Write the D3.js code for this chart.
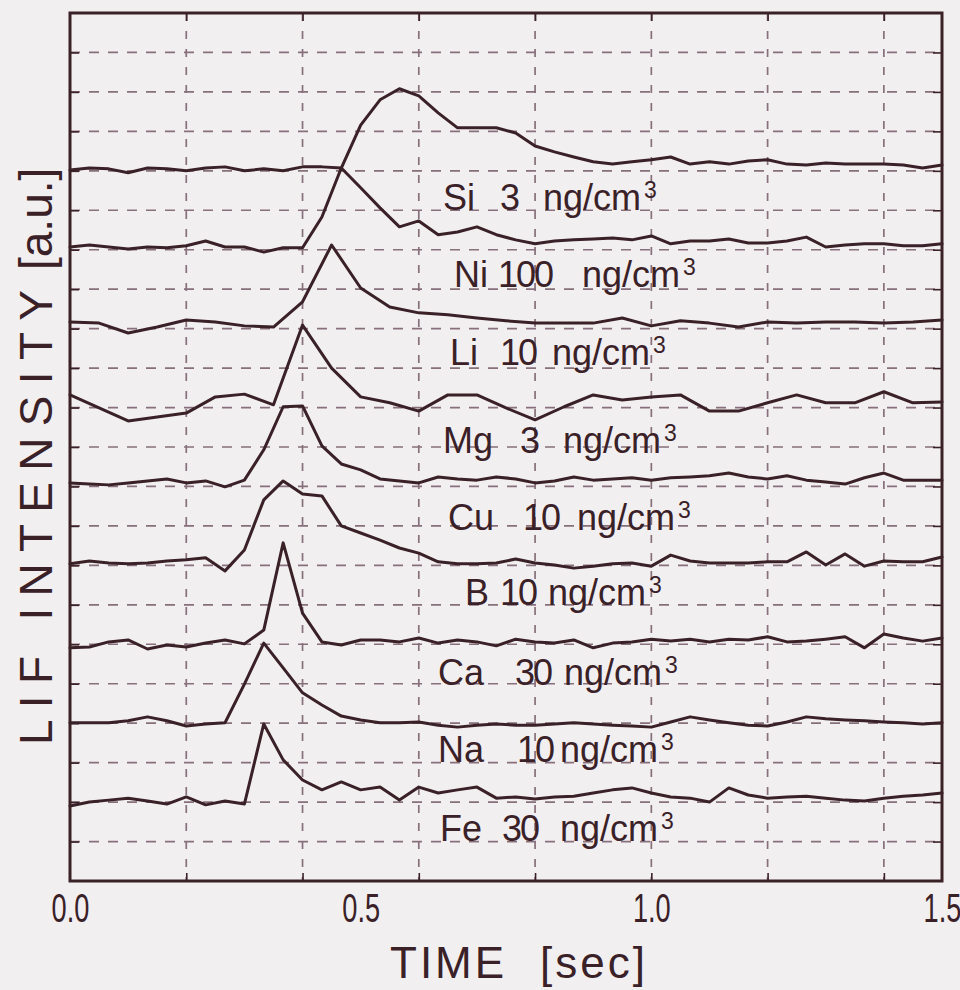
<!DOCTYPE html>
<html>
<head>
<meta charset="utf-8">
<script src="https://cdn.jsdelivr.net/npm/d3@7"></script>
<style>
  html, body { margin: 0; padding: 0; background: #f2eff1; }
  svg { display: block; }
</style>
</head>
<body>
<div id="chart"></div>
<script>
// Element traces, stacked from top to bottom
const elements = ["Si", "Ni", "Li", "Mg", "Cu", "B", "Ca", "Na", "Fe"];
const amounts  = ["3", "100", "10", "3", "10", "10", "30", "10", "30"];
const unitText = "ng/cm";
const unitPower = "3";

// Baseline of each trace in intensity units (a.u.)
const offsets = [18, 16, 14, 12, 10, 8, 6, 4, 2];
// Sampling interval of each trace [sec]
const intervals = [1/30, 1/30, 1/20, 1/20, 1/30, 1/30, 1/30, 1/30, 1/30];

// LIF signal above baseline [a.u.]
const si = [0.02,0.07,0.05,-0.05,0.07,0.05,0.00,0.07,0.10,0.00,0.05,0.00,0.10,0.10,0.07,1.16,1.80,2.08,1.90,1.47,1.09,1.09,1.09,0.96,0.63,0.48,0.35,0.23,0.17,0.23,0.28,0.35,0.17,0.23,0.17,0.25,0.28,0.17,0.15,0.20,0.17,0.17,0.17,0.15,0.07,0.15];
const ni = [0.07,0.12,0.07,0.02,0.07,0.05,0.10,0.22,0.07,0.07,-0.06,0.05,0.05,0.83,2.07,1.57,1.06,0.58,0.73,0.38,0.45,0.58,0.38,0.25,0.15,0.22,0.25,0.27,0.30,0.25,0.35,0.15,0.22,0.22,0.27,0.17,0.17,0.22,0.32,0.07,0.12,0.15,0.15,0.10,0.10,0.15];
const li = [0.17,0.14,-0.11,0.04,0.22,0.17,0.07,0.04,0.68,2.12,1.03,0.55,0.40,0.35,0.27,0.20,0.14,0.14,0.14,0.27,0.07,0.20,0.14,0.04,0.17,0.14,0.17,0.17,0.14,0.17,0.22];
const mg = [0.32,-0.01,-0.34,-0.24,-0.14,0.27,0.34,0.07,2.09,1.00,0.27,0.12,-0.09,0.32,0.32,-0.01,-0.31,0.02,0.32,0.19,0.27,0.32,-0.09,-0.09,0.12,0.32,0.12,0.12,0.40,0.12,0.14];
const cu = [0.09,0.06,0.04,0.09,0.14,0.19,0.09,0.14,-0.01,0.16,0.93,2.02,2.04,1.03,0.57,0.42,0.19,0.14,0.09,0.24,0.19,0.16,0.24,0.19,0.09,0.14,0.24,0.16,0.19,0.22,0.16,0.22,0.24,0.27,0.34,0.24,0.19,0.27,0.16,0.11,0.06,0.22,0.34,0.16,0.16,0.16];
const b  = [0.04,0.11,0.06,0.04,0.06,0.11,0.14,0.19,-0.14,0.39,1.66,2.14,1.81,1.76,1.00,0.82,0.64,0.44,0.31,0.09,0.04,0.04,0.06,0.16,0.06,0.01,-0.07,-0.02,0.04,0.06,-0.02,0.26,0.11,0.06,0.06,0.06,0.09,0.09,0.34,0.01,0.29,-0.02,0.11,0.09,0.09,0.21];
const ca = [-0.09,-0.07,0.06,0.11,-0.12,-0.02,-0.07,0.03,0.11,0.01,0.36,2.57,0.79,0.06,-0.02,0.11,0.11,0.06,0.16,0.03,0.11,0.06,-0.04,0.13,0.06,0.03,0.11,-0.09,0.03,0.06,0.13,0.08,0.13,0.06,0.13,0.11,0.19,0.06,0.08,0.13,0.19,-0.09,0.26,0.16,0.08,0.16];
const na = [0.01,0.01,0.01,0.06,0.16,0.06,-0.07,-0.02,0.01,0.99,2.03,1.40,0.77,0.46,0.18,0.08,0.01,0.01,0.03,-0.05,-0.10,-0.05,-0.02,-0.05,-0.05,-0.02,0.01,-0.02,-0.05,-0.07,-0.10,0.03,0.16,0.08,0.01,-0.05,-0.07,0.03,0.16,0.11,0.08,0.06,0.03,0.01,-0.02,0.01];
const fe = [-0.10,0.00,0.05,0.10,0.03,-0.05,0.13,-0.07,0.03,-0.05,1.98,1.07,0.56,0.31,0.51,0.31,0.38,0.05,0.38,0.23,0.31,0.38,0.10,0.13,0.08,0.13,0.15,0.23,0.31,0.36,0.23,0.13,0.10,0.00,0.36,0.18,0.10,0.13,0.15,0.10,0.05,0.03,0.10,0.15,0.18,0.23];
const signals = [si, ni, li, mg, cu, b, ca, na, fe];

// Axis ticks
const xLabelTicks = [0.0, 0.5, 1.0, 1.5];
const xGridTicks = [0.2, 0.4, 0.6, 0.8, 1.0, 1.2, 1.4];
const yGridTicks = d3.range(1, 22);

// Label layout: x of element name, amount and unit; baseline nudge
const labelLayout = [
  [443, 500, 543, 0], [454, 498, 582, -2], [450, 500, 552, -3],
  [443, 520, 563, 6], [448, 523, 577, 4], [465, 500, 548, 0],
  [438, 515, 564, 1], [438, 517, 560, -1], [440, 502, 560, -1]
];

const W = 960, H = 990;
const ink = "#3a2127";
const gridInk = "#87707b";
const font = "'Liberation Sans', Arial, Helvetica, sans-serif";

const svg = d3.select("#chart").append("svg")
  .attr("width", W).attr("height", H)
  .style("background", "#f2eff1");

const x = d3.scaleLinear().domain([0, 1.5]).range([70, 942]);
const y = d3.scaleLinear().domain([0, 22]).range([881, 13]);

// Dashed grid
const grid = svg.append("g").attr("stroke", gridInk).attr("stroke-width", 1.7).attr("fill", "none");
grid.selectAll("line.h").data(yGridTicks).join("line").attr("class", "h")
  .attr("x1", x(0)).attr("x2", x(1.5))
  .attr("y1", d => y(d)).attr("y2", d => y(d))
  .attr("stroke-dasharray", "10,9");
grid.selectAll("line.v").data(xGridTicks).join("line").attr("class", "v")
  .attr("x1", d => x(d)).attr("x2", d => x(d))
  .attr("y1", y(22)).attr("y2", y(0))
  .attr("stroke-dasharray", "8,10");

// Inner ticks on all four sides
function tickStyle(g) {
  g.select(".domain").remove();
  g.selectAll(".tick line").attr("stroke", ink).attr("stroke-width", 1.6);
  g.selectAll(".tick text").remove();
}
svg.append("g").attr("transform", `translate(0,${y(0)})`)
  .call(d3.axisBottom(x).tickValues(xGridTicks).tickSize(-8)).call(tickStyle);
svg.append("g").attr("transform", `translate(0,${y(22)})`)
  .call(d3.axisTop(x).tickValues(xGridTicks).tickSize(-8)).call(tickStyle);
svg.append("g").attr("transform", `translate(${x(0)},0)`)
  .call(d3.axisLeft(y).tickValues(yGridTicks).tickSize(-9)).call(tickStyle);
svg.append("g").attr("transform", `translate(${x(1.5)},0)`)
  .call(d3.axisRight(y).tickValues(yGridTicks).tickSize(-9)).call(tickStyle);

// Tick labels
const xAxis = svg.append("g").attr("transform", `translate(0,${y(0)})`)
  .call(d3.axisBottom(x).tickValues(xLabelTicks).tickSize(0).tickFormat(d3.format(".1f")));
xAxis.select(".domain").remove();
xAxis.selectAll(".tick text")
  .attr("y", 0).attr("dy", 0)
  .attr("transform", "translate(0,41) scale(0.68,1)")
  .attr("fill", ink)
  .style("font-family", font).style("font-size", "40px");

// Traces
const traces = svg.append("g").attr("fill", "none").attr("stroke", ink)
  .attr("stroke-width", 3).attr("stroke-linejoin", "round").attr("stroke-linecap", "round");
signals.forEach((vals, k) => {
  const line = d3.line()
    .x((d, i) => x(i * intervals[k]))
    .y(d => y(offsets[k] + d));
  traces.append("path").attr("d", line(vals));
});

// Frame
svg.append("rect")
  .attr("x", x(0)).attr("y", y(22))
  .attr("width", x(1.5) - x(0)).attr("height", y(0) - y(22))
  .attr("fill", "none").attr("stroke", ink).attr("stroke-width", 3);

// Trace labels
const labels = svg.append("g").attr("fill", ink)
  .style("font-family", font).style("font-size", "36px");
elements.forEach((el, k) => {
  const [xn, xa, xu, dy] = labelLayout[k];
  const by = y(offsets[k] - 1) + dy;
  labels.append("text").attr("x", xn).attr("y", by).text(el);
  labels.append("text").attr("x", xa).attr("y", by)
    .style("letter-spacing", "-2px").text(amounts[k]);
  const t = labels.append("text").attr("x", xu).attr("y", by);
  t.append("tspan").text(unitText);
  t.append("tspan").attr("dx", 3).attr("dy", -12).style("font-size", "23px").text(unitPower);
});

// Axis titles
svg.append("text").attr("fill", ink)
  .style("font-family", font).style("font-size", "44px").style("letter-spacing", "3px")
  .attr("x", 390).attr("y", 978).text("TIME");
svg.append("text").attr("fill", ink)
  .style("font-family", font).style("font-size", "44px").style("letter-spacing", "3px")
  .attr("x", 540).attr("y", 978).text("[sec]");

const yTitle = svg.append("g").attr("transform", "translate(52,745) rotate(-90)")
  .attr("fill", ink).style("font-family", font).style("font-size", "46px");
yTitle.append("text").attr("x", 0).attr("y", 0)
  .attr("textLength", 455).attr("lengthAdjust", "spacing").text("LIF INTENSITY");
yTitle.append("text").attr("x", 475).attr("y", 0).text("[a.u.]");
</script>
</body>
</html>
